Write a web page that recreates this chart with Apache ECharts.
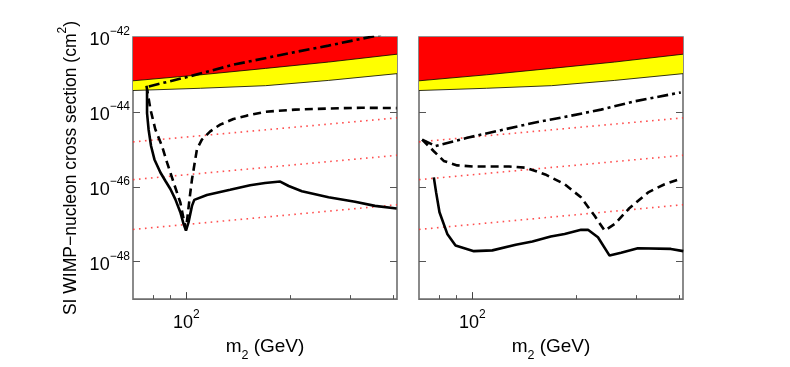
<!DOCTYPE html>
<html><head><meta charset="utf-8">
<script src="https://cdn.jsdelivr.net/npm/echarts@6/dist/echarts.min.js"></script>
<style>html,body{margin:0;padding:0;background:#fff}#c{width:790px;height:367px}</style>
</head><body><div id="c"></div>
<script>
// ---- data (mass in GeV, cross section in cm^2) ----
const xMin = 70, xMax = 410;
const yMin = 1e-49, yMax = 1e-42;
const xMinorTicks = [80, 90, 200, 300, 400];
const xMajorTicks = [100];
const yTickExponents = [-48, -46, -44, -42];   // tick labels 10^-48 ... 10^-42

const bandRed = [[70,6.76e-44],[110,9.77e-44],[170,1.45e-43],[259,2.14e-43],[410,3.47e-43]];
const bandYellow = [[70,3.72e-44],[110,4.27e-44],[170,5.01e-44],[259,6.92e-44],[410,1.05e-43]];

const dotted1 = [[70,1.58e-45],[410,6.92e-45]];
const dotted2 = [[70,1.55e-46],[410,6.92e-46]];
const dotted3 = [[70,7.24e-48],[410,3.31e-47]];

const leftSolid = [[76.9,3.89e-44],[76.9,9.33e-45],[77.7,3.39e-45],[79.0,1.23e-45],[80.8,5.37e-46],
  [84.1,2.40e-46],[86.9,1.45e-46],[89.9,8.71e-47],[92.9,4.68e-47],[96.1,2.09e-47],[98.2,1.02e-47],
  [99.8,6.76e-48],[101.5,1.12e-47],[103.9,3.09e-47],[105.5,4.47e-47],[114.8,6.03e-47],[134.1,8.32e-47],
  [153.3,1.10e-46],[169.4,1.26e-46],[187.6,1.38e-46],[198.5,1.05e-46],[216.9,7.59e-47],[259.2,5.25e-47],
  [309.6,3.98e-47],[353.8,3.09e-47],[409,2.63e-47]];
const leftDashed = [[76.6,5.01e-44],[78.7,1.15e-44],[81.3,3.39e-45],[85.0,1.23e-45],[87.9,4.47e-46],
  [91.9,1.29e-46],[96.1,3.80e-47],[98.7,1.12e-47],[99.8,7.41e-48],[100.9,1.70e-47],[102.2,4.68e-47],
  [103.9,1.58e-46],[106.2,5.37e-46],[107.4,1.00e-45],[111,1.82e-45],[117.4,3.02e-45],[125.5,4.57e-45],
  [137.1,6.46e-45],[149.9,7.94e-45],[169.4,1.00e-44],[185.6,1.07e-44],[207.2,1.15e-44],[259.2,1.23e-44],
  [323.6,1.29e-44],[409,1.26e-44]];
const leftDashDot = [[77.8,4.79e-44],[100.5,8.51e-44],[137.1,1.82e-43],[200,3.72e-43],[259.2,5.89e-43],
  [346,1.02e-42],[409,1.41e-42]];

const rightSolid = [[77.3,1.78e-46],[78.5,7.08e-47],[80.3,2.09e-47],[84.6,5.50e-48],[89.4,2.69e-48],
  [101.1,1.91e-48],[114.4,2.00e-48],[133.8,2.82e-48],[149.6,3.47e-48],[169.1,4.68e-48],[185.6,5.50e-48],
  [207.2,7.08e-48],[217,7.08e-48],[232,4.47e-48],[250.7,1.45e-48],[270.8,1.74e-48],[303,2.29e-48],
  [378,2.19e-48],[410.8,1.91e-48]];
const rightDashed = [[71.5,1.82e-45],[77.3,8.91e-46],[82.6,4.90e-46],[90.4,3.72e-46],[101,3.47e-46],
  [128,3.47e-46],[143,3.24e-46],[163,2.14e-46],[185.6,1.17e-46],[207,5.25e-47],[226.6,1.70e-47],
  [242.6,6.76e-48],[259.8,1.02e-47],[285,2.57e-47],[324.6,7.08e-47],[362.6,1.17e-46],[405.9,1.66e-46]];
const rightDashDot = [[71.5,1.82e-45],[78.2,1.23e-45],[96.7,2.04e-45],[121,3.24e-45],[151.3,5.13e-45],
  [189.3,7.59e-45],[236.7,1.15e-44],[296,1.91e-44],[404,3.31e-44]];

const panels = [
  {solid: leftSolid, dashed: leftDashed, dashDot: leftDashDot},
  {solid: rightSolid, dashed: rightDashed, dashDot: rightDashDot}
];

// ---- styling ----
const FONT = 'Liberation Sans';
const supRich = {
  b: {fontSize: 18, fontFamily: FONT, color: '#000', verticalAlign: 'top', lineHeight: 18, padding: [5,0,0,0]},
  s: {fontSize: 12, fontFamily: FONT, color: '#000', verticalAlign: 'top', lineHeight: 12}
};
const subRich = {
  b: {fontSize: 19, fontFamily: FONT, color: '#000', verticalAlign: 'top', lineHeight: 19},
  u: {fontSize: 12.5, fontFamily: FONT, color: '#000', verticalAlign: 'top', lineHeight: 12, padding: [12,0,0,0]}
};
function powLabel(v) {
  const e = Math.round(Math.log10(v));
  return '{b|10}{s|' + (e < 0 ? '\u2212' : '') + Math.abs(e) + '}';
}
function expLabel(e) {
  return '{b|10}{s|' + (e < 0 ? '\u2212' : '') + Math.abs(Math.round(e)) + '}';
}
const gridPos = [{left: 133}, {left: 419}];
const yExpMin = Math.round(Math.log10(yMin)), yExpMax = Math.round(Math.log10(yMax));

const grids = [], xAxes = [], yAxes = [], series = [];
gridPos.forEach((gp, g) => {
  grids.push({left: gp.left, top: 37, width: 264, height: 264, show: true,
    borderColor: '#6e6e6e', borderWidth: 1.6, backgroundColor: 'transparent', containLabel: false});
  // minor x ticks
  xAxes.push({type: 'log', gridIndex: g, min: xMin, max: xMax, position: 'bottom',
    axisLine: {show: false}, splitLine: {show: false},
    axisTick: {show: true, inside: true, length: 4, customValues: xMinorTicks, lineStyle: {color: '#555', width: 1}},
    axisLabel: {show: false}});
  // major x tick + label + name
  xAxes.push({type: 'log', gridIndex: g, min: xMin, max: xMax, position: 'bottom',
    axisLine: {show: false}, splitLine: {show: false},
    axisTick: {show: true, inside: true, length: 7, customValues: xMajorTicks, lineStyle: {color: '#444', width: 1}},
    axisLabel: {show: true, customValues: xMajorTicks, margin: 10, formatter: powLabel, rich: supRich},
    name: '{b|m}{u|2}{b| (GeV)}', nameLocation: 'middle', nameGap: 32,
    nameTextStyle: {rich: subRich}});
  // data y axis (log)
  yAxes.push({type: 'log', gridIndex: g, min: yMin, max: yMax, position: 'left',
    axisLine: {show: false}, splitLine: {show: false}, axisTick: {show: false}, axisLabel: {show: false}});
  // left y ticks/labels (decade exponents)
  yAxes.push({type: 'value', gridIndex: g, min: yExpMin, max: yExpMax, position: 'left',
    axisLine: {show: false}, splitLine: {show: false},
    axisTick: {show: true, inside: true, length: 7, customValues: yTickExponents, lineStyle: {color: '#555', width: 1}},
    axisLabel: {show: g === 0, customValues: yTickExponents, margin: 3, formatter: expLabel, rich: supRich, padding: [0,0,4,0]},
    name: g === 0 ? '{b|SI WIMP\u2212nucleon cross section (cm}{s|2}{b|)}' : '',
    nameLocation: 'middle', nameGap: 58,
    nameTextStyle: {rich: {
      b: {fontSize: 17.5, fontFamily: FONT, color: '#000', verticalAlign: 'top', lineHeight: 18, padding: [5,0,0,0]},
      s: {fontSize: 12, fontFamily: FONT, color: '#000', verticalAlign: 'top', lineHeight: 12}
    }}});
  // right y ticks
  yAxes.push({type: 'value', gridIndex: g, min: yExpMin, max: yExpMax, position: 'right',
    axisLine: {show: false}, splitLine: {show: false},
    axisTick: {show: true, inside: true, length: 7, customValues: yTickExponents, lineStyle: {color: '#555', width: 1}},
    axisLabel: {show: false}});

  const xi = 2 * g, yi = 3 * g;
  const base = {type: 'line', xAxisIndex: xi, yAxisIndex: yi, showSymbol: false, symbol: 'none',
    silent: true, animation: false};
  // filled bands (region from boundary up to the top of the plot)
  [[bandYellow, '#ffff00', 1], [bandRed, '#ff0000', 2]].forEach(([band, color, z]) => {
    series.push({type: 'custom', xAxisIndex: xi, yAxisIndex: yi, silent: true, z: z, clip: true,
      data: [[band[0][0], band[0][1]]],
      renderItem: (params, api) => {
        const pts = band.map(p => api.coord(p));
        pts.push(api.coord([band[band.length - 1][0], yMax]));
        pts.push(api.coord([band[0][0], yMax]));
        return {type: 'polygon', shape: {points: pts}, style: {fill: color, stroke: null}};
      }});
    series.push(Object.assign({}, base, {data: band, z: z + 0.5, lineStyle: {color: '#000', width: 0.8}}));
  });
  [dotted1, dotted2, dotted3].forEach((d) => {
    series.push(Object.assign({}, base, {data: d, z: 4,
      lineStyle: {color: '#ff3030', width: 1.6, type: [1.6, 4.4], opacity: 0.85}}));
  });
  const p = panels[g];
  series.push(Object.assign({}, base, {data: p.solid, z: 5,
    lineStyle: {color: '#000', width: 2.6, type: 'solid'}}));
  series.push(Object.assign({}, base, {data: p.dashed, z: 5,
    lineStyle: {color: '#000', width: 2.6, type: [8, 5]}}));
  series.push(Object.assign({}, base, {data: p.dashDot, z: 5,
    lineStyle: {color: '#000', width: 2.6, type: [11, 4, 3, 4]}}));
});

const chart = echarts.init(document.getElementById('c'), null, {renderer: 'canvas'});
chart.setOption({animation: false, backgroundColor: '#fff', grid: grids, xAxis: xAxes, yAxis: yAxes, series: series});
</script></body></html>
